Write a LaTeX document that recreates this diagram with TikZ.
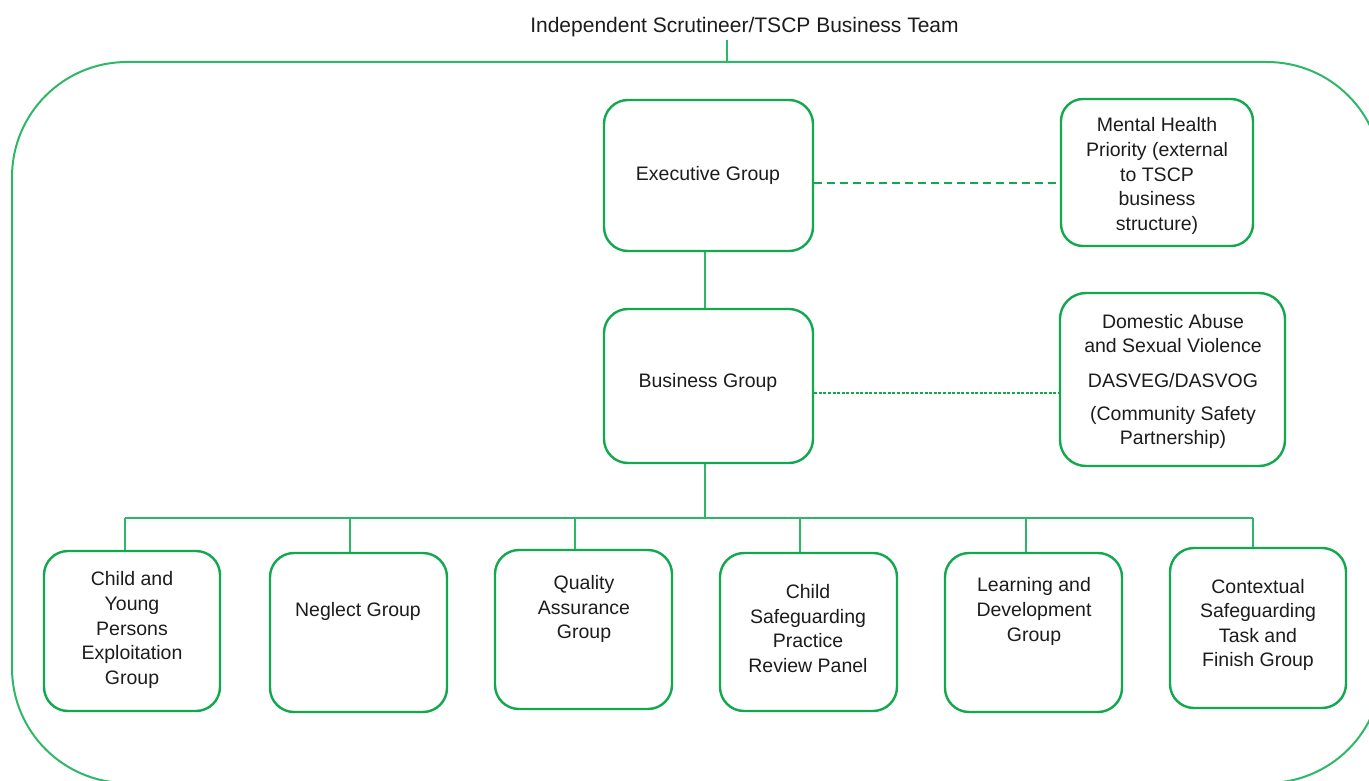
\documentclass[tikz,border=0pt]{standalone}
\usepackage{fontspec}
\setmainfont{Liberation Sans}
\definecolor{gr}{HTML}{12A84E}
\definecolor{grl}{HTML}{2DB868}
\definecolor{tx}{HTML}{1C1C1C}
\begin{document}
\begin{tikzpicture}[x=1pt,y=-1pt,
  box/.style={draw=gr, line width=2.4pt, rounded corners=24pt, inner sep=0pt},
  txt/.style={text=tx, align=center, font=\fontsize{19.5}{24.6}\selectfont, inner sep=0pt},
  conn/.style={draw=grl, line width=1.3pt},
  dashA/.style={draw=gr, line width=1.6pt, dash pattern=on 8pt off 5pt},
  dashB/.style={draw=gr, line width=1.3pt, dash pattern=on 3pt off 1.6pt},
  frame/.style={draw=grl, line width=2pt, rounded corners=115pt}]
\useasboundingbox (0,0) rectangle (1369,781);
% outer frame
\draw[frame] (12,62) rectangle (1382,783);
\coordinate (frametop) at (727,62);
\node[text=tx, font=\fontsize{21}{25}\selectfont, inner sep=0pt] (title) at (744.5,27) {Independent Scrutineer/TSCP Business Team};
\draw[conn] (727,40) -- (frametop);
% main boxes
\node[box, minimum width=209pt, minimum height=151pt] (exec) at (708.5,175.5) {};
\node[box, minimum width=209pt, minimum height=154pt] (bus) at (708.5,386) {};
\node[box, rounded corners=22pt, minimum width=192pt, minimum height=147pt] (mh) at (1157,172.5) {};
\node[box, rounded corners=26pt, minimum width=225pt, minimum height=173pt] (das) at (1172.5,379.5) {};
\node[txt] (exect) at (708,175) {Executive Group};
\node[txt] (bust) at (708,382) {Business Group};
\node[txt] (mht) at (1157,176) {Mental Health\\Priority (external\\to TSCP\\business\\structure)};
\node[txt] (dast) at (1173,381.5) {Domestic Abuse\\and Sexual Violence\\[10pt]DASVEG/DASVOG\\[8pt](Community Safety\\Partnership)};
% bottom boxes
\node[box, minimum width=176pt, minimum height=160pt] (b1) at (132,631) {};
\node[box, minimum width=177pt, minimum height=159pt] (b2) at (358.5,632.5) {};
\node[box, minimum width=177pt, minimum height=159pt] (b3) at (583.5,629.5) {};
\node[box, minimum width=177pt, minimum height=158pt] (b4) at (808.5,632) {};
\node[box, minimum width=177pt, minimum height=159pt] (b5) at (1033.5,632.5) {};
\node[box, minimum width=176pt, minimum height=160pt] (b6) at (1258,628) {};
\node[txt] (t1) at (132,630) {Child and\\Young\\Persons\\Exploitation\\Group};
\node[txt] (t2) at (358,611) {Neglect Group};
\node[txt] (t3) at (584,609) {Quality\\Assurance\\Group};
\node[txt] (t4) at (808,628.5) {Child\\Safeguarding\\Practice\\Review Panel};
\node[txt] (t5) at (1034,611.5) {Learning and\\Development\\Group};
\node[txt] (t6) at (1258,625) {Contextual\\Safeguarding\\Task and\\Finish Group};
% connectors
\draw[dashA] ([yshift=-7.5pt]exec.east) -- ([yshift=-7.5pt]exec.east -| mh.west);
\draw[dashB] ([yshift=-7pt]bus.east) -- ([yshift=-7pt]bus.east -| das.west);
\draw[conn] ([xshift=-3.5pt]exec.south) -- ([xshift=-3.5pt]bus.north);
\coordinate (j) at (705,518);
\coordinate (d1) at (125,518);
\coordinate (d2) at (350,518);
\coordinate (d3) at (575,518);
\coordinate (d4) at (800,518);
\coordinate (d5) at (1026,518);
\coordinate (d6) at (1253,518);
\draw[conn] ([xshift=-3.5pt]bus.south) -- (j);
\draw[conn] (d1) -- (d6);
\draw[conn] (d1) -- (b1.north -| d1);
\draw[conn] (d2) -- (b2.north -| d2);
\draw[conn] (d3) -- (b3.north -| d3);
\draw[conn] (d4) -- (b4.north -| d4);
\draw[conn] (d5) -- (b5.north -| d5);
\draw[conn] (d6) -- (b6.north -| d6);
\end{tikzpicture}
\end{document}
